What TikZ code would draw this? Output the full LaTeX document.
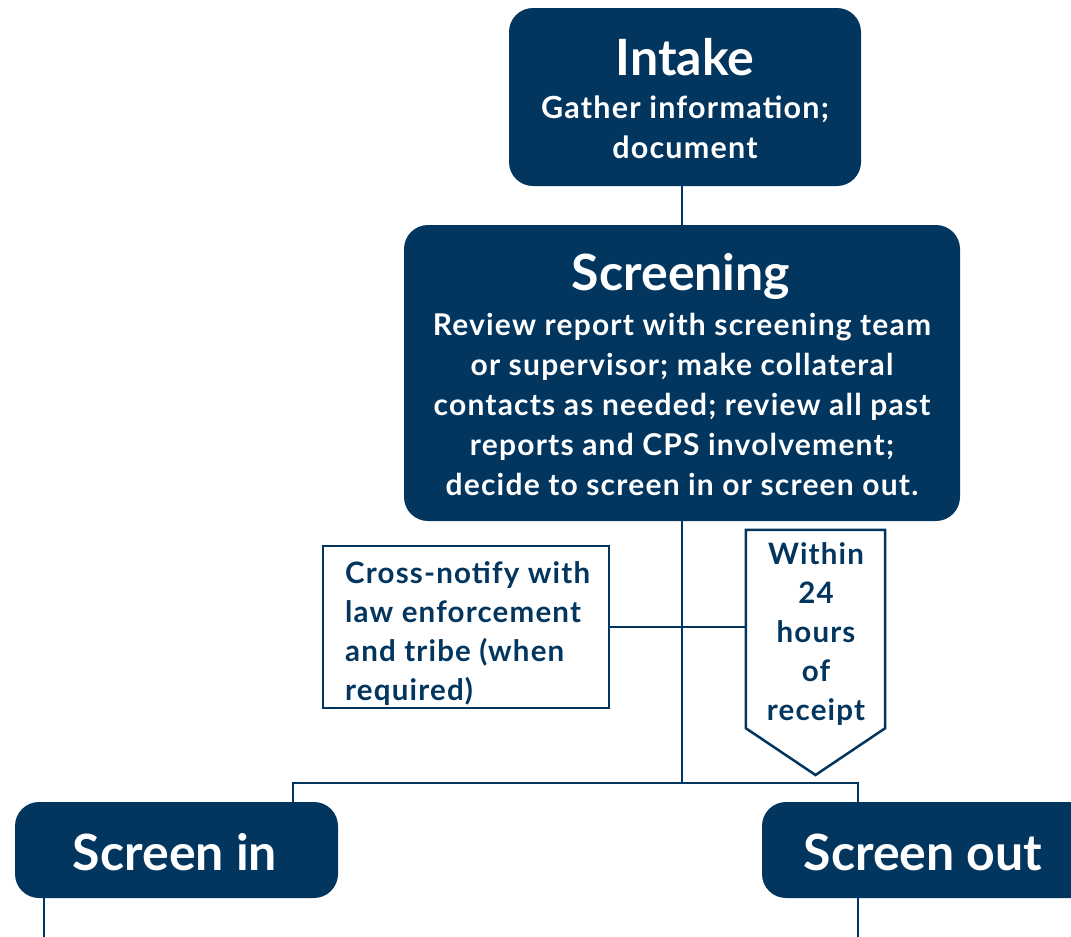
\documentclass[tikz,border=0pt]{standalone}
\usepackage{fontspec}
\setmainfont{Lato}
\newfontfamily\widelato[LetterSpace=4]{Lato}
\definecolor{navy}{HTML}{02365F}
\begin{document}
\begin{tikzpicture}[x=1pt,y=-1pt,
  panel/.style={fill=navy, draw=none, rounded corners=24pt, inner sep=0pt},
  outlinebox/.style={draw=navy, line width=2.5pt, fill=white, inner sep=0pt},
  link/.style={draw=navy, line width=2.5pt},
  titletext/.style={text=white, font=\fontsize{50}{60}\selectfont\bfseries, inner sep=0pt},
  bodytext/.style={text=white, font=\widelato\fontsize{30}{39.8}\selectfont\bfseries, align=center, inner sep=0pt},
  introtext/.style={text=white, font=\widelato\fontsize{30.5}{39.5}\selectfont\bfseries, align=center, inner sep=0pt},
  notetext/.style={text=navy, font=\widelato\fontsize{29.5}{39}\selectfont\bfseries, inner sep=0pt}]
\clip (0,0) rectangle (1071,937);

% fixed points of the connector tree
\coordinate (split) at (682,783);
\coordinate (leftdrop) at (293,783);
\coordinate (rightdrop) at (858,783);
\coordinate (inexit) at (44,937);
\coordinate (outexit) at (858,937);

% boxes
\node[panel, minimum width=352, minimum height=178] (intake) at (685,97) {};
\node[panel, minimum width=556, minimum height=296] (screening) at (682,373) {};
\node[outlinebox, minimum width=286, minimum height=162] (cross) at (466,627) {};
\node[inner sep=0pt, minimum width=139, minimum height=198] (within) at (815.5,629) {};
\coordinate (tip) at (815.5,775);
\node[panel, minimum width=323, minimum height=96] (screenin) at (176.5,850) {};
\node[panel, minimum width=340, minimum height=96] (screenout) at (932,850) {};

% links
\draw[link] (screening.north) -- (screening.north |- intake.south);
\draw[link] (screening.south) -- (split);
\draw[link] (cross.east) -- (cross.east -| within.west);
\draw[link] (leftdrop |- screenin.north) -- (leftdrop) -- (rightdrop) -- (rightdrop |- screenout.north);
\draw[link] (inexit |- screenin.south) -- (inexit);
\draw[link] (outexit |- screenout.south) -- (outexit);

% timing marker
\draw[navy, line width=2.5pt, fill=white, line join=miter]
  (within.south west) -- (within.north west) -- (within.north east)
  -- (within.south east) -- (tip) -- cycle;

% texts (base anchor = baseline of the last line)
\node[titletext, anchor=base] (intaketitle) at (685,75) {Intake};
\node[introtext, anchor=base] (intakebody) at (685,158)
  {Gather information;\\document};
\node[titletext, anchor=base] (screeningtitle) at (681,290) {Screening};
\node[bodytext, anchor=base] (screeningbody) at (682,495)
  {Review report with screening team\\or supervisor; make collateral\\contacts as needed; review all past\\reports and CPS involvement;\\decide to screen in or screen out.};
\node[notetext, align=left, anchor=base west] (crosstext) at (345,700)
  {Cross-notify with\\law enforcement\\and tribe (when\\required)};
\node[notetext, align=center, anchor=base] (withintext) at (816,720)
  {Within\\24\\hours\\of\\receipt};
\node[titletext, anchor=base] (screenintext) at (175,870) {Screen in};
\node[titletext, anchor=base] (screenouttext) at (923,870) {Screen out};
\end{tikzpicture}
\end{document}
